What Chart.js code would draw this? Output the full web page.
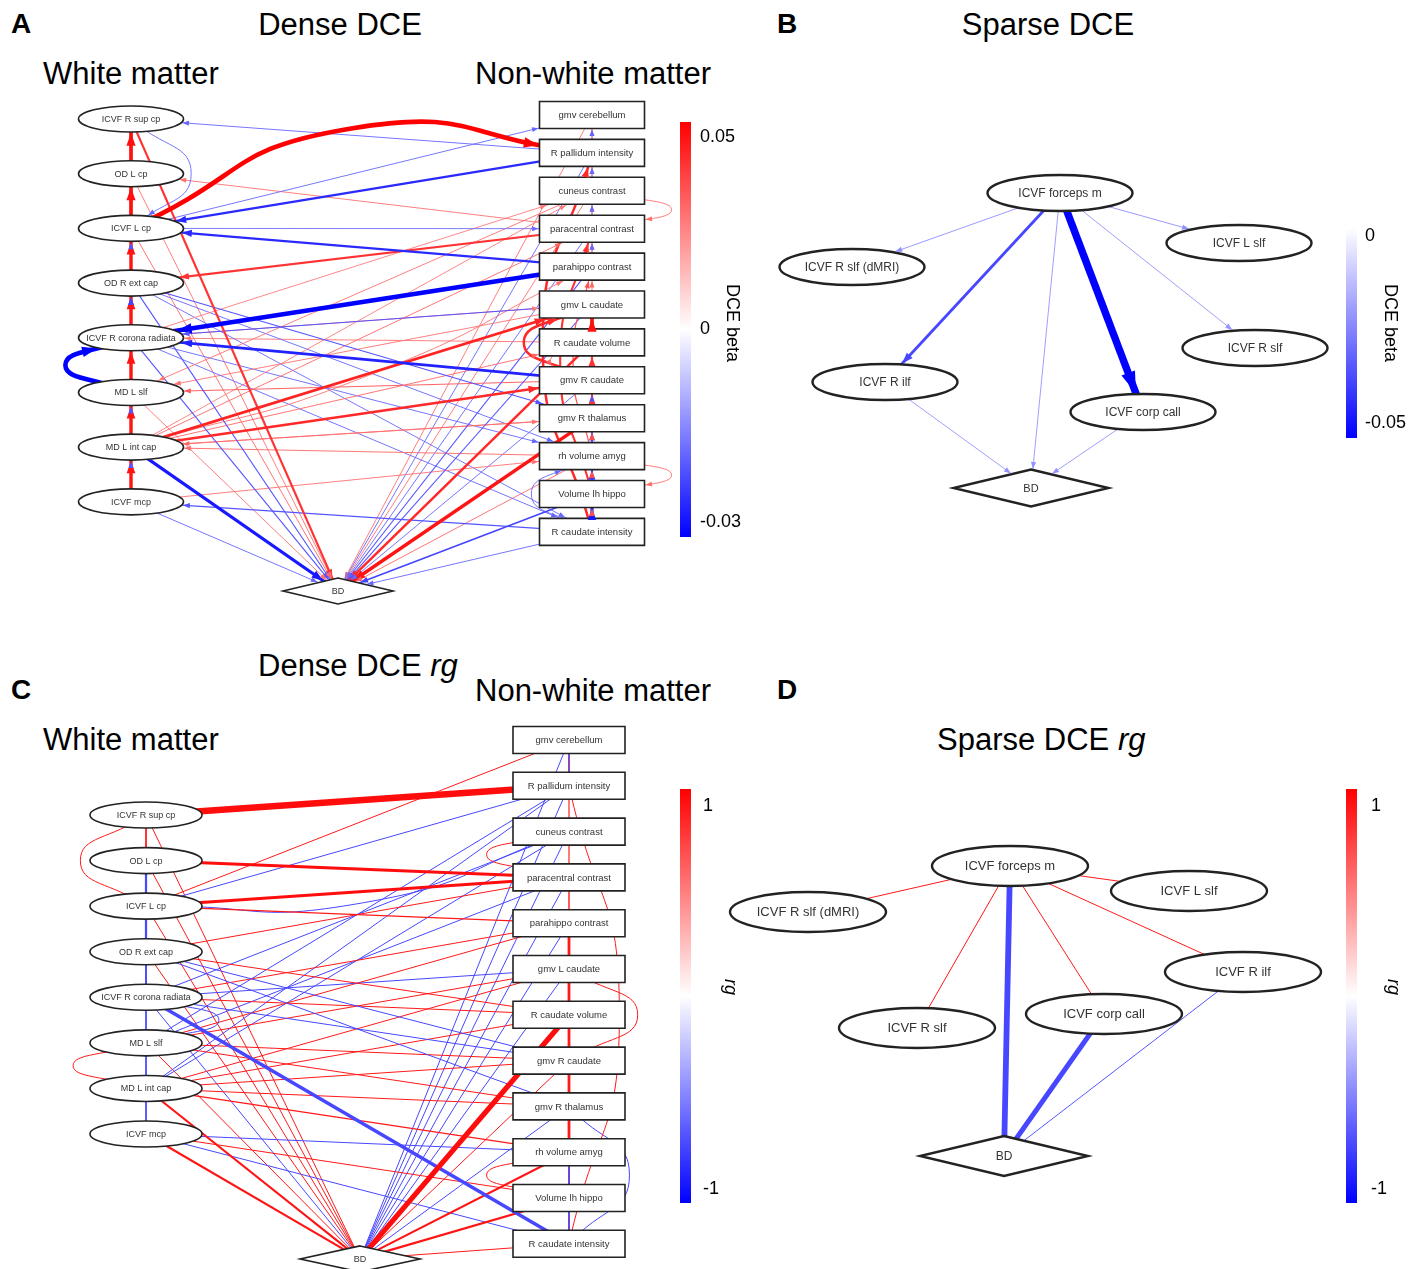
<!DOCTYPE html>
<html>
<head>
<meta charset="utf-8">
<script src="https://cdn.jsdelivr.net/npm/chart.js@4.4.0/dist/chart.umd.min.js"></script>
<style>
  body { margin: 0; background: #fff; font-family: "Liberation Sans", Arial, sans-serif; }
  #page { position: relative; width: 1416px; height: 1269px; overflow: hidden; }
  .t { position: absolute; white-space: nowrap; line-height: 1; color: #000; transform: translateY(-50%); }
  .c { transform: translate(-50%, -50%); }
  .big { font-size: 31px; }
  .letter { font-size: 28px; font-weight: bold; }
  canvas { position: absolute; }
</style>
</head>
<body>
<div id="page">
  <div class="t letter" style="left:11px;top:24px">A</div>
  <div class="t big c" style="left:340px;top:24px">Dense DCE</div>
  <div class="t big" style="left:43px;top:73px">White matter</div>
  <div class="t big" style="left:475px;top:73px">Non-white matter</div>

  <div class="t letter" style="left:777px;top:24px">B</div>
  <div class="t big c" style="left:1048px;top:24px">Sparse DCE</div>

  <div class="t big" style="left:258px;top:665px">Dense DCE <i>rg</i></div>
  <div class="t letter" style="left:11px;top:690px">C</div>
  <div class="t big" style="left:475px;top:690px">Non-white matter</div>
  <div class="t big" style="left:43px;top:739px">White matter</div>

  <div class="t letter" style="left:777px;top:690px">D</div>
  <div class="t big" style="left:937px;top:739px">Sparse DCE <i>rg</i></div>

  <canvas id="chartA"></canvas>
  <canvas id="chartB"></canvas>
  <canvas id="chartC"></canvas>
  <canvas id="chartD"></canvas>
</div>

<script>
// ---------- data ----------
const wmNodes = ["ICVF R sup cp", "OD L cp", "ICVF L cp", "OD R ext cap",
  "ICVF R corona radiata", "MD L slf", "MD L int cap", "ICVF mcp"];
const nwNodes = ["gmv cerebellum", "R pallidum intensity", "cuneus contrast",
  "paracentral contrast", "parahippo contrast", "gmv L caudate", "R caudate volume",
  "gmv R caudate", "gmv R thalamus", "rh volume amyg", "Volume lh hippo", "R caudate intensity"];
// w0..w7 = white matter, n0..n11 = non-white matter

// dense DCE: [from, to, beta]
const denseDceEdges = [
  // white matter chain
  ["w1","w0",0.047], ["w2","w1",0.047], ["w3","w2",0.046], ["w4","w3",0.046],
  ["w5","w4",0.046], ["w6","w5",0.046], ["w7","w6",0.046],
  ["w3","w2",-0.02], ["w4","w3",-0.022], ["w6","w5",-0.02], ["w7","w6",-0.02],
  ["w0","w2",-0.018], ["w5","w4",-0.03],
  // non-white chain
  ["n1","n0",0.026], ["n2","n1",0.026], ["n3","n2",0.026], ["n4","n3",0.026], ["n5","n4",0.03],
  ["n6","n5",0.047], ["n7","n6",0.04], ["n8","n7",0.04], ["n9","n8",0.035], ["n10","n9",0.035],
  ["n11","n10",0.035],
  ["n1","n0",-0.018], ["n2","n1",-0.018], ["n3","n2",-0.018], ["n4","n3",-0.018],
  ["n8","n7",-0.02], ["n9","n8",-0.022], ["n10","n9",-0.024], ["n11","n10",-0.027],
  ["n11","n1",0.042], ["n10","n3",0.04], ["n9","n4",0.034], ["n7","n5",0.042], ["n6","n7",0.03],
  ["n2","n3",0.028], ["n9","n10",0.028], ["n11","n9",-0.018],
  // white <-> non-white
  ["w2","n1",0.05], ["w2","n0",-0.018], ["n1","w0",-0.018], ["n1","w2",-0.025],
  ["n3","w1",0.028], ["w2","n3",-0.017], ["n4","w2",-0.025], ["n3","w3",0.04],
  ["w6","n4",0.028], ["n4","w4",-0.03], ["n5","w4",-0.02], ["n7","w4",-0.026],
  ["n2","w5",0.028], ["w4","n2",0.026], ["w6","n2",0.026], ["w4","n5",0.026],
  ["w6","n5",0.043], ["w6","n7",0.042], ["w6","n3",0.03], ["w6","n6",0.03], ["w6","n8",0.028],
  ["n7","w5",0.032], ["n9","w6",0.03], ["n8","w6",0.03], ["w7","n9",0.028], ["n11","w7",-0.02],
  ["w3","n8",-0.02], ["w3","n9",-0.018], ["w3","n11",-0.018], ["w4","n11",-0.018],
  ["n6","w4",0.028], ["n5","w5",0.028], ["w4","n9",-0.018],
  // to BD
  ["w0","BD",0.04], ["w1","BD",0.028], ["w2","BD",0.03], ["w3","BD",-0.02], ["w4","BD",-0.02],
  ["w5","BD",0.028], ["w6","BD",-0.027], ["w7","BD",-0.018],
  ["n0","BD",0.028], ["n1","BD",-0.018], ["n2","BD",0.028], ["n3","BD",-0.018], ["n4","BD",-0.02],
  ["n5","BD",-0.02], ["n6","BD",0.042], ["n7","BD",-0.018], ["n8","BD",0.046], ["n9","BD",0.03],
  ["n10","BD",-0.022], ["n11","BD",-0.018]
];

// dense rg: [node, node, rg, DCE strength 0..1]
const denseRgEdges = [
  ["w0","n1",0.95,0.9], ["w1","n3",0.95,0.33], ["w2","n3",0.95,0.33], ["n6","BD",0.95,0.7],
  ["w4","n11",-0.72,0.42],
  ["w0","w1",0.9,0], ["w1","w2",-0.72,0.2], ["w2","w3",-0.72,0.2], ["w3","w4",-0.72,0.15],
  ["w4","w5",-0.72,0], ["w5","w6",-0.72,0], ["w6","w7",-0.72,0],
  ["w0","w2",0.9,0], ["w5","w6",0.9,0], ["w5","w4",-0.72,0],
  ["n0","n1",0.8,0], ["n1","n2",0.8,0.05], ["n2","n3",0.8,0.05], ["n3","n4",0.8,0.1],
  ["n4","n5",0.9,0.3], ["n5","n6",0.9,0.3], ["n6","n7",0.9,0.3], ["n7","n8",0.9,0.3],
  ["n8","n9",0.9,0.3], ["n9","n10",0.8,0], ["n10","n11",0.8,0],
  ["n0","n1",-0.72,0.05], ["n9","n10",-0.72,0.1], ["n10","n11",-0.72,0.1],
  ["n1","n11",0.9,0], ["n3","n2",0.9,0], ["n10","n9",0.9,0], ["n5","n7",0.9,0], ["n8","n11",-0.72,0],
  ["w2","n0",0.9,0], ["w2","n1",-0.72,0], ["w2","n4",0.9,0.05], ["w2","n2",-0.72,0],
  ["w3","n3",0.9,0], ["w3","n7",-0.72,0], ["w3","n8",-0.72,0], ["w3","n6",0.9,0],
  ["w4","n4",0.9,0], ["w4","n5",-0.72,0], ["w4","n7",-0.72,0], ["w4","n6",0.9,0], ["w4","n2",-0.72,0],
  ["w5","n4",0.9,0], ["w5","n5",0.9,0], ["w5","n7",0.9,0], ["w5","n3",-0.72,0], ["w5","n8",0.9,0],
  ["w5","n1",-0.72,0],
  ["w6","n1",-0.72,0], ["w6","n5",0.9,0], ["w6","n6",0.9,0], ["w6","n7",0.9,0], ["w6","n8",0.9,0],
  ["w6","n9",0.9,0.05], ["w6","n2",-0.72,0],
  ["w7","n9",-0.72,0], ["w7","n11",-0.72,0], ["w7","n10",0.9,0],
  ["w0","BD",0.9,0], ["w1","BD",0.9,0], ["w2","BD",0.9,0], ["w3","BD",0.9,0], ["w4","BD",-0.72,0],
  ["w5","BD",0.9,0], ["w6","BD",0.92,0.18], ["w7","BD",0.92,0.18],
  ["n0","BD",-0.72,0], ["n1","BD",-0.72,0], ["n2","BD",-0.72,0], ["n3","BD",-0.72,0],
  ["n4","BD",-0.72,0], ["n5","BD",-0.72,0], ["n7","BD",0.9,0], ["n8","BD",-0.72,0],
  ["n9","BD",0.92,0.18], ["n10","BD",0.92,0.2], ["n11","BD",0.9,0]
];

const sparseNodes = ["ICVF forceps m", "ICVF R slf (dMRI)", "ICVF L slf", "ICVF R slf",
  "ICVF R ilf", "ICVF corp call", "BD"];

// sparse DCE: [from, to, beta]
const sparseDceEdges = [
  ["ICVF forceps m","ICVF R slf (dMRI)",-0.022], ["ICVF forceps m","ICVF L slf",-0.022],
  ["ICVF forceps m","ICVF R slf",-0.021], ["ICVF forceps m","ICVF R ilf",-0.036],
  ["ICVF forceps m","ICVF corp call",-0.05], ["ICVF forceps m","BD",-0.021],
  ["ICVF R ilf","BD",-0.021], ["ICVF corp call","BD",-0.021]
];

// sparse rg: [node, node, rg, DCE strength]
const sparseRgEdges = [
  ["ICVF forceps m","ICVF R slf (dMRI)",0.9,0], ["ICVF forceps m","ICVF L slf",0.9,0],
  ["ICVF forceps m","ICVF R ilf",0.9,0], ["ICVF forceps m","ICVF R slf",0.92,0],
  ["ICVF forceps m","ICVF corp call",0.9,0], ["ICVF forceps m","BD",-0.72,0.8],
  ["ICVF corp call","BD",-0.72,0.65], ["ICVF R ilf","BD",-0.66,0]
];

const ticksDce = ["0.05", "0", "-0.03"];
const ticksSparseDce = ["0", "-0.05"];
const ticksRg = ["1", "-1"];

// ---------- layout (graph layout units) ----------
const layoutDceDense = { wmY0: 0.106, wmStep: 1.443, bd: [0.449, 12.56] };
const layoutRgDense = { wmY0: 1.638, wmStep: 0.995, bd: [0.506, 11.33] };
const sparseDceX = [0.29, -1.79, 2.08, 2.24, -1.46, 1.12, 0];
const sparseDceY = [-2.95, -2.21, -2.45, -1.40, -1.06, -0.76, 0];
const sparseRgX = [0.06, -1.96, 1.85, -0.87, 2.39, 1.00, 0];
const sparseRgY = [-2.90, -2.44, -2.65, -1.28, -1.84, -1.42, 0];

// edge bends, key "from>to" + sign of value
const bendsDce = { "w0>w2-": -0.55, "w5>w4-": -1.2, "w2>n1+": -0.135, "w6>n4+": 0.04,
  "n11>n1+": -0.13, "n10>n3+": -0.12, "n9>n4+": -0.1, "n7>n5+": -0.9, "n6>n7+": 1.1,
  "n2>n3+": -2.1, "n9>n10+": -2.1, "n11>n9-": -0.8 };
const bendsRg = { "w0>w2+": 0.72, "w5>w6+": 1.6, "w5>w4-": 1.6, "w2>n2-": 0.08,
  "n1>n11+": -0.11, "n3>n2+": -1.8, "n10>n9+": -1.8, "n5>n7+": -0.75, "n8>n11-": -0.44 };

const FONT = '"Liberation Sans", Arial, sans-serif';

function colorOf(v, vmin, vmax) {
  let t;
  if (v >= 0) {
    t = vmax > 0 ? Math.min(1, v / vmax) : 0;
    const g = Math.round(255 * (1 - t));
    return "rgb(255," + g + "," + g + ")";
  }
  t = Math.min(1, v / vmin);
  const g = Math.round(255 * (1 - t));
  return "rgb(" + g + "," + g + ",255)";
}

function denseNodes(L) {
  const nodes = [];
  wmNodes.forEach((name, i) => nodes.push({ id: "w" + i, label: name, shape: "ellipse", x: 0, y: L.wmY0 + i * L.wmStep }));
  nwNodes.forEach((name, j) => nodes.push({ id: "n" + j, label: name, shape: "box", x: 1, y: j }));
  nodes.push({ id: "BD", label: "BD", shape: "diamond", x: L.bd[0], y: L.bd[1] });
  return nodes;
}

function sparse(xs, ys) {
  return sparseNodes.map((name, i) => ({ id: name, label: name, shape: name === "BD" ? "diamond" : "ellipse", x: xs[i], y: ys[i] }));
}

function nodeSize(n, st) {
  return n.shape === "ellipse" ? st.ellipse : n.shape === "box" ? st.box : st.diamond;
}

function inside(n, c, p, st) {
  const [w, h] = nodeSize(n, st);
  const dx = Math.abs(p.x - c.x) / (w + 1), dy = Math.abs(p.y - c.y) / (h + 1);
  if (n.shape === "ellipse") return dx * dx + dy * dy < 1;
  if (n.shape === "box") return dx < 1 && dy < 1;
  return dx + dy < 1;
}

function drawNode(ctx, n, c, st) {
  const [w, h] = nodeSize(n, st);
  ctx.save();
  ctx.lineWidth = st.lw;
  ctx.strokeStyle = "#222";
  ctx.fillStyle = "#fff";
  ctx.beginPath();
  if (n.shape === "ellipse") ctx.ellipse(c.x, c.y, w, h, 0, 0, Math.PI * 2);
  else if (n.shape === "box") ctx.rect(c.x - w, c.y - h, 2 * w, 2 * h);
  else {
    ctx.moveTo(c.x, c.y - h); ctx.lineTo(c.x + w, c.y);
    ctx.lineTo(c.x, c.y + h); ctx.lineTo(c.x - w, c.y); ctx.closePath();
  }
  ctx.fill();
  ctx.stroke();
  ctx.fillStyle = "#333";
  ctx.textAlign = "center";
  ctx.textBaseline = "middle";
  ctx.font = (n.shape === "box" ? st.boxFont : n.shape === "diamond" ? st.bdFont : st.font) + "px " + FONT;
  ctx.fillText(n.label, c.x, c.y + 0.5);
  ctx.restore();
}

function bez(P0, P1, P2, P3, t) {
  const u = 1 - t;
  return {
    x: u * u * u * P0.x + 3 * u * u * t * P1.x + 3 * u * t * t * P2.x + t * t * t * P3.x,
    y: u * u * u * P0.y + 3 * u * u * t * P1.y + 3 * u * t * t * P2.y + t * t * t * P3.y
  };
}

function makePlugin(cfg, edges, byId) {
  return {
    id: "graph",
    afterDatasetsDraw(chart) {
      const ctx = chart.ctx, xs = chart.scales.x, ys = chart.scales.y;
      const pix = n => ({ x: xs.getPixelForValue(n.x), y: ys.getPixelForValue(n.y) });
      const st = cfg.style;
      cfg.nodes.forEach(n => drawNode(ctx, n, pix(n), st));

      if (cfg.directed) {
        edges.forEach((e, i) => {
          const meta = chart.getDatasetMeta(i);
          const pts = meta.data;
          const target = byId[e.to], c = pix(target);
          let P0, P1, P2, P3;
          if (pts.length === 3) {
            if (meta.dataset && meta.dataset.updateControlPoints) meta.dataset.updateControlPoints(chart.chartArea);
            const a = pts[1], b = pts[2];
            P0 = { x: a.x, y: a.y }; P3 = { x: b.x, y: b.y };
            P1 = a.cp2x !== undefined ? { x: a.cp2x, y: a.cp2y } : P0;
            P2 = b.cp1x !== undefined ? { x: b.cp1x, y: b.cp1y } : P3;
          } else {
            P0 = { x: pts[0].x, y: pts[0].y }; P3 = { x: pts[1].x, y: pts[1].y };
            P1 = P0; P2 = P3;
          }
          let lo = 0, hi = 1;
          for (let k = 0; k < 30; k++) {
            const m = (lo + hi) / 2;
            if (inside(target, c, bez(P0, P1, P2, P3, m), st)) hi = m; else lo = m;
          }
          const tip = bez(P0, P1, P2, P3, lo);
          const back = bez(P0, P1, P2, P3, Math.max(0, lo - 0.04));
          let dx = tip.x - back.x, dy = tip.y - back.y;
          let len = Math.hypot(dx, dy);
          if (len < 0.01) { dx = P3.x - P0.x; dy = P3.y - P0.y; len = Math.hypot(dx, dy) || 1; }
          const ux = dx / len, uy = dy / len;
          const al = st.arrow[0] + st.arrow[1] * e.width, aw = st.arrow[2] + st.arrow[3] * e.width;
          ctx.save();
          ctx.fillStyle = e.color;
          ctx.beginPath();
          ctx.moveTo(tip.x, tip.y);
          ctx.lineTo(tip.x - ux * al - uy * aw, tip.y - uy * al + ux * aw);
          ctx.lineTo(tip.x - ux * al + uy * aw, tip.y - uy * al - ux * aw);
          ctx.closePath();
          ctx.fill();
          ctx.restore();
        });
      }

      // colour bar
      const cb = cfg.colorbar;
      const x0 = cb.rect[0] - cfg.box[0], y0 = cb.rect[1] - cfg.box[1], w = cb.rect[2], h = cb.rect[3];
      const grad = ctx.createLinearGradient(0, y0, 0, y0 + h);
      for (let k = 0; k <= 40; k++) {
        const f = k / 40;
        let v;
        if (cfg.vmax > 0) { const norm = 1 - 2 * f; v = norm >= 0 ? norm * cfg.vmax : -norm * cfg.vmin; }
        else v = f * cfg.vmin;
        grad.addColorStop(f, colorOf(v, cfg.vmin, cfg.vmax));
      }
      ctx.save();
      ctx.fillStyle = grad;
      ctx.fillRect(x0, y0, w, h);
      ctx.fillStyle = "#000";
      ctx.font = "18px " + FONT;
      ctx.textAlign = "left";
      ctx.textBaseline = "middle";
      const n = cb.ticks.length;
      const [inTop, inBot] = cb.inset;
      cb.ticks.forEach((lab, k) => {
        const f = n === 1 ? 0 : k / (n - 1);
        ctx.fillText(lab, x0 + w + cb.labelGap, y0 + inTop + f * (h - inTop - inBot));
      });
      ctx.translate(cb.title[0] - cfg.box[0], cb.title[1] - cfg.box[1]);
      ctx.rotate(Math.PI / 2);
      ctx.textAlign = "center";
      ctx.font = (cb.italic ? "italic " : "") + "18px " + FONT;
      ctx.fillText(cb.label, 0, 0);
      ctx.restore();
    }
  };
}

function buildPanel(cfg) {
  const canvas = document.getElementById(cfg.id);
  const [cl, ct, cw, chh] = cfg.box;
  canvas.width = cw; canvas.height = chh;
  canvas.style.left = cl + "px"; canvas.style.top = ct + "px";
  canvas.style.width = cw + "px"; canvas.style.height = chh + "px";
  const [ox, oy] = cfg.origin, [ux, uy] = cfg.ppu;
  const xMin = (cl - ox) / ux, yMin = (ct - oy) / uy;
  const byId = {};
  cfg.nodes.forEach(n => { byId[n.id] = n; });

  const edges = cfg.edges.map(r => {
    const e = { from: r[0], to: r[1], value: r[2], strength: r[3] };
    e.color = colorOf(e.value, cfg.vmin, cfg.vmax);
    e.width = cfg.widthOf(e);
    e.bend = cfg.bends[e.from + ">" + e.to + (e.value >= 0 ? "+" : "-")] || 0;
    return e;
  });
  edges.sort((a, b) => b.width - a.width);

  const datasets = edges.map(e => {
    const a = byId[e.from], b = byId[e.to];
    const pts = [{ x: a.x, y: a.y }];
    if (e.bend) {
      const dxp = (b.x - a.x) * ux, dyp = (b.y - a.y) * uy;
      pts.push({ x: (a.x + b.x) / 2 - e.bend * dyp / ux, y: (a.y + b.y) / 2 + e.bend * dxp / uy });
    }
    pts.push({ x: b.x, y: b.y });
    return {
      data: pts, showLine: true, borderColor: e.color, borderWidth: e.width,
      pointRadius: 0, pointHoverRadius: 0, tension: e.bend ? 0.55 : 0, fill: false, clip: false
    };
  });

  new Chart(canvas, {
    type: "scatter",
    data: { datasets },
    options: {
      responsive: false, animation: false, events: [],
      layout: { padding: 0 },
      plugins: { legend: { display: false }, tooltip: { enabled: false } },
      scales: {
        x: { type: "linear", display: false, min: xMin, max: xMin + cw / ux },
        y: { type: "linear", display: false, reverse: true, min: yMin, max: yMin + chh / uy }
      }
    },
    plugins: [makePlugin(cfg, edges, byId)]
  });
}

const denseStyle = { ellipse: [52.5, 13], box: [52.5, 13.5], diamond: [55, 13], font: 9, boxFont: 9.5, bdFont: 9, lw: 1.6, arrow: [4.5, 2.2, 1.8, 0.75] };

buildPanel({
  id: "chartA", box: [0, 90, 760, 530], origin: [131, 115], ppu: [461, 37.9],
  nodes: denseNodes(layoutDceDense), edges: denseDceEdges, bends: bendsDce,
  vmin: -0.03, vmax: 0.05, directed: true, style: denseStyle,
  widthOf: e => { const t = Math.min(1, e.value >= 0 ? e.value / 0.05 : e.value / -0.03); return Math.max(0.9, 4.6 * Math.pow(t, 3.5)); },
  colorbar: { rect: [680, 122, 11, 415], ticks: ticksDce, inset: [15, 15], labelGap: 9, title: [732, 323], label: "DCE beta" }
});

buildPanel({
  id: "chartB", box: [760, 140, 656, 390], origin: [1031, 488], ppu: [100, 100],
  nodes: sparse(sparseDceX, sparseDceY), edges: sparseDceEdges, bends: {},
  vmin: -0.05, vmax: 0, directed: true,
  style: { ellipse: [72.5, 18], box: [60, 15], diamond: [77.5, 18.5], font: 12, boxFont: 12, bdFont: 11, lw: 2.4, arrow: [5, 2.2, 2, 0.7] },
  widthOf: e => { const t = Math.min(1, e.value / -0.05); return Math.max(0.9, 7.5 * t * t * t); },
  colorbar: { rect: [1346, 228, 11, 210], ticks: ticksSparseDce, inset: [8, 15], labelGap: 8, title: [1390, 323], label: "DCE beta" }
});

buildPanel({
  id: "chartC", box: [0, 700, 760, 569], origin: [146, 740], ppu: [423, 45.8],
  nodes: denseNodes(layoutRgDense), edges: denseRgEdges, bends: bendsRg,
  vmin: -1, vmax: 1, directed: false,
  style: { ellipse: [56, 13], box: [56, 13.5], diamond: [60, 13], font: 9, boxFont: 9.5, bdFont: 9, lw: 1.6, arrow: [0, 0, 0, 0] },
  widthOf: e => 1 + 6 * e.strength,
  colorbar: { rect: [680, 789, 11, 414], ticks: ticksRg, inset: [17, 14], labelGap: 12, title: [730, 987], label: "rg", italic: true }
});

buildPanel({
  id: "chartD", box: [720, 760, 696, 480], origin: [1004, 1156], ppu: [100, 100],
  nodes: sparse(sparseRgX, sparseRgY), edges: sparseRgEdges, bends: {},
  vmin: -1, vmax: 1, directed: false,
  style: { ellipse: [78, 20], box: [60, 15], diamond: [84, 20], font: 13, boxFont: 13, bdFont: 12, lw: 2.4, arrow: [0, 0, 0, 0] },
  widthOf: e => 1 + 6 * e.strength,
  colorbar: { rect: [1346, 789, 11, 414], ticks: ticksRg, inset: [17, 14], labelGap: 14, title: [1393, 987], label: "rg", italic: true }
});
</script>
</body>
</html>
